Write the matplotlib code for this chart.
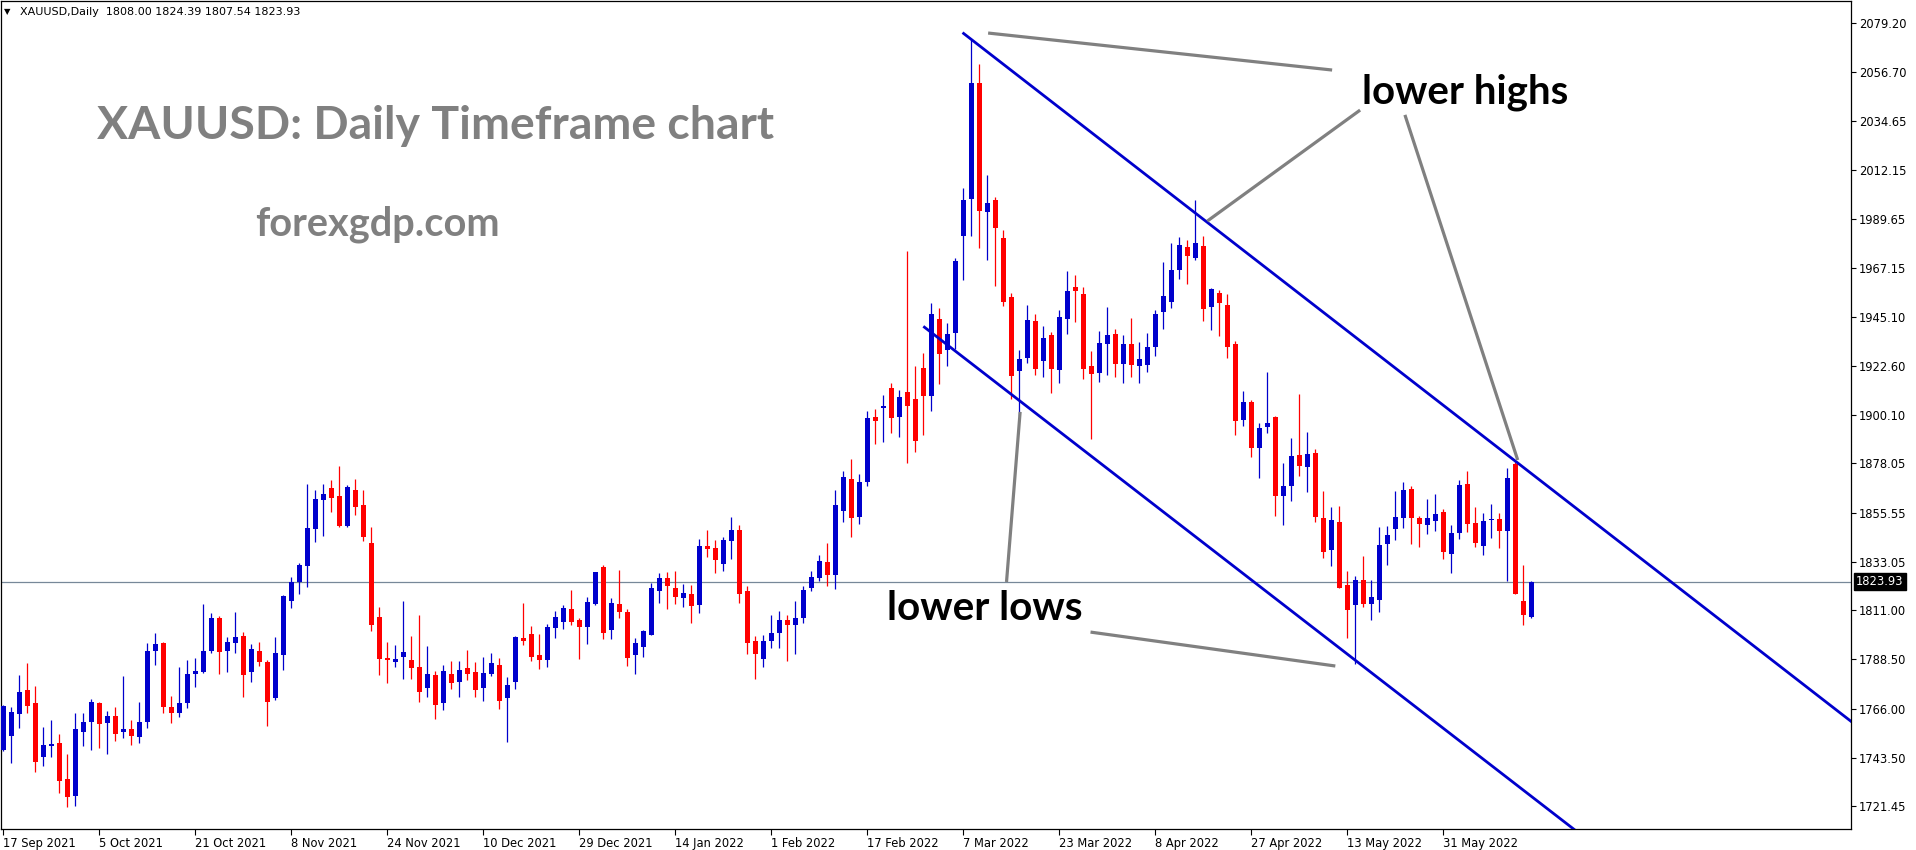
import matplotlib
matplotlib.use("Agg")
import matplotlib.pyplot as plt
from matplotlib.transforms import blended_transform_factory

# ---------------- data ----------------
opens = [1747.0, 1753.7, 1763.7, 1774.5, 1768.6, 1744.1, 1749.1, 1750.3, 1733.9, 1726.3,
         1755.5, 1760.1, 1768.6, 1759.6, 1762.7, 1755.5, 1756.7, 1753.2, 1760.1, 1792.4,
         1796.0, 1766.8, 1764.0, 1768.6, 1781.9, 1782.8, 1792.4, 1807.4, 1792.4, 1796.0,
         1799.2, 1782.8, 1792.4, 1787.3, 1771.0, 1790.7, 1815.4, 1823.9, 1831.2, 1848.1,
         1861.4, 1866.8, 1863.2, 1849.5, 1865.9, 1859.1, 1841.7, 1807.9, 1789.2, 1787.5,
         1789.8, 1788.2, 1785.1, 1775.6, 1781.4, 1768.8, 1781.9, 1778.4, 1784.6, 1782.8,
         1775.6, 1782.0, 1786.0, 1771.0, 1778.4, 1798.3, 1800.1, 1790.5, 1788.4, 1803.0,
         1805.8, 1811.5, 1806.5, 1803.5, 1814.0, 1830.7, 1802.1, 1813.8, 1810.2, 1790.7,
         1794.3, 1799.8, 1819.9, 1825.7, 1821.1, 1816.7, 1818.4, 1813.5, 1840.3, 1839.4,
         1832.2, 1842.8, 1847.6, 1819.8, 1796.9, 1788.9, 1797.1, 1800.7, 1806.5, 1804.4,
         1807.5, 1821.1, 1825.8, 1832.8, 1827.3, 1856.1, 1871.1, 1853.8, 1869.8, 1899.3,
         1903.6, 1912.6, 1899.1, 1910.5, 1907.6, 1921.5, 1908.8, 1944.0, 1930.0, 1937.6,
         1982.0, 1998.7, 2051.7, 1992.8, 1998.3, 1981.2, 1954.0, 1920.3, 1926.1, 1943.0,
         1925.0, 1936.7, 1920.9, 1944.2, 1958.7, 1955.5, 1922.6, 1919.5, 1932.8, 1937.2,
         1923.6, 1932.6, 1922.7, 1923.2, 1931.4, 1947.4, 1952.0, 1966.6, 1977.0, 1972.1,
         1977.4, 1949.7, 1955.9, 1950.5, 1932.6, 1898.1, 1906.1, 1885.3, 1894.8, 1899.3,
         1863.0, 1867.9, 1881.9, 1876.3, 1882.8, 1853.1, 1838.7, 1851.3, 1822.5, 1813.5,
         1824.8, 1814.0, 1815.8, 1841.4, 1848.3, 1853.3, 1866.4, 1853.1, 1850.1, 1851.9,
         1855.9, 1836.8, 1846.4, 1868.7, 1850.8, 1840.5, 1852.2, 1852.7, 1847.3, 1877.8,
         1815.2, 1808.00]
highs = [1767.5, 1766.9, 1781.4, 1786.9, 1776.4, 1757.6, 1760.8, 1754.4, 1745.3, 1764.0,
         1764.0, 1770.4, 1769.1, 1765.0, 1766.8, 1780.9, 1760.8, 1769.1, 1796.0, 1800.6,
         1796.5, 1771.8, 1785.0, 1788.2, 1789.2, 1813.8, 1809.7, 1808.4, 1798.8, 1810.2,
         1801.0, 1795.6, 1796.5, 1788.2, 1798.8, 1817.9, 1826.2, 1832.6, 1868.7, 1865.9,
         1868.7, 1870.5, 1876.9, 1868.2, 1870.9, 1865.9, 1849.0, 1812.5, 1796.5, 1795.1,
         1815.2, 1799.2, 1808.8, 1794.6, 1783.4, 1786.0, 1787.8, 1787.8, 1792.8, 1787.3,
         1789.6, 1791.4, 1789.2, 1780.5, 1799.2, 1814.3, 1803.8, 1800.1, 1804.7, 1810.6,
         1813.4, 1820.2, 1807.4, 1817.0, 1828.5, 1831.7, 1816.6, 1829.4, 1811.5, 1798.3,
         1801.9, 1823.4, 1828.0, 1828.5, 1828.9, 1823.0, 1822.5, 1843.5, 1847.6, 1843.1,
         1844.4, 1853.6, 1849.9, 1822.1, 1799.2, 1799.7, 1808.8, 1810.6, 1808.8, 1815.0,
         1822.0, 1828.9, 1836.3, 1841.9, 1865.8, 1874.8, 1880.3, 1873.0, 1901.8, 1903.1,
         1909.1, 1914.6, 1911.5, 1975.2, 1922.5, 1928.3, 1951.3, 1949.0, 1942.2, 1971.7,
         2003.7, 2072.0, 2060.5, 2010.0, 2000.0, 1984.8, 1955.7, 1930.1, 1950.3, 1946.3,
         1941.0, 1938.1, 1948.2, 1966.0, 1964.2, 1958.7, 1929.4, 1938.6, 1949.5, 1939.5,
         1936.7, 1944.5, 1933.5, 1937.6, 1948.2, 1970.1, 1978.8, 1981.5, 1980.1, 1998.4,
         1982.0, 1958.2, 1957.3, 1955.5, 1934.0, 1911.2, 1907.0, 1896.5, 1919.8, 1899.7,
         1878.3, 1889.7, 1909.8, 1892.4, 1884.5, 1865.5, 1858.2, 1858.6, 1828.9, 1826.6,
         1835.8, 1824.8, 1849.0, 1849.5, 1865.5, 1869.6, 1867.8, 1854.0, 1861.8, 1864.1,
         1857.2, 1849.9, 1870.5, 1874.6, 1858.2, 1855.4, 1859.5, 1855.4, 1876.0, 1878.7,
         1831.6, 1824.39]
lows = [1746.5, 1741.3, 1757.3, 1764.2, 1737.2, 1740.0, 1744.1, 1727.6, 1721.2, 1721.7,
        1749.1, 1747.3, 1748.2, 1745.5, 1751.4, 1752.8, 1749.6, 1750.5, 1757.3, 1786.0,
        1764.0, 1759.5, 1762.2, 1766.3, 1775.9, 1782.3, 1791.4, 1781.9, 1782.8, 1791.4,
        1771.3, 1778.2, 1785.5, 1758.2, 1770.1, 1783.8, 1812.2, 1818.6, 1821.8, 1842.3,
        1845.1, 1856.0, 1849.0, 1849.0, 1854.7, 1842.8, 1801.7, 1781.5, 1777.9, 1785.2,
        1779.7, 1779.7, 1769.2, 1771.5, 1761.4, 1765.5, 1775.2, 1771.5, 1779.3, 1771.5,
        1769.7, 1781.1, 1766.0, 1750.9, 1775.2, 1795.3, 1788.0, 1784.3, 1785.2, 1798.4,
        1802.6, 1804.4, 1788.9, 1795.7, 1813.5, 1798.0, 1798.0, 1807.6, 1785.7, 1782.0,
        1789.8, 1799.8, 1814.3, 1811.5, 1814.0, 1812.6, 1805.3, 1809.9, 1835.5, 1828.2,
        1829.1, 1834.5, 1814.4, 1791.1, 1779.7, 1785.2, 1793.9, 1793.9, 1788.0, 1791.0,
        1805.0, 1819.9, 1824.4, 1821.9, 1820.6, 1851.1, 1844.6, 1850.6, 1867.9, 1887.0,
        1887.8, 1892.0, 1890.0, 1878.3, 1883.1, 1891.0, 1902.0, 1914.3, 1922.5, 1930.3,
        1961.7, 1982.0, 1976.7, 1971.2, 1959.3, 1950.2, 1907.6, 1899.5, 1924.0, 1918.5,
        1917.5, 1910.4, 1915.0, 1937.4, 1942.8, 1916.8, 1889.4, 1915.3, 1918.5, 1917.6,
        1915.0, 1917.6, 1915.0, 1920.0, 1927.3, 1939.6, 1949.2, 1962.5, 1960.2, 1971.2,
        1943.3, 1939.2, 1936.4, 1926.4, 1891.2, 1895.3, 1881.2, 1871.6, 1892.1, 1854.2,
        1850.1, 1861.0, 1872.3, 1865.2, 1851.5, 1835.0, 1831.3, 1821.1, 1798.5, 1786.3,
        1812.6, 1806.7, 1810.3, 1831.8, 1843.2, 1848.7, 1841.4, 1840.0, 1846.0, 1847.3,
        1834.6, 1828.2, 1843.7, 1846.9, 1840.0, 1836.4, 1844.1, 1839.6, 1824.5, 1818.4,
        1804.4, 1807.54]
closes = [1767.0, 1764.5, 1773.6, 1767.4, 1741.8, 1749.4, 1749.9, 1733.1, 1725.8, 1756.7,
          1759.9, 1769.1, 1759.2, 1762.7, 1754.6, 1756.7, 1753.7, 1759.9, 1792.4, 1795.6,
          1766.8, 1764.0, 1768.6, 1781.9, 1783.2, 1792.4, 1807.4, 1791.9, 1796.5, 1798.8,
          1781.4, 1793.3, 1787.3, 1769.2, 1791.4, 1817.5, 1823.9, 1831.7, 1848.6, 1861.8,
          1864.1, 1862.3, 1849.5, 1867.3, 1858.3, 1844.6, 1804.4, 1788.9, 1788.4, 1788.7,
          1791.9, 1784.7, 1773.8, 1781.9, 1767.8, 1783.2, 1777.9, 1783.7, 1782.0, 1774.7,
          1782.3, 1786.9, 1769.7, 1776.8, 1798.8, 1797.1, 1789.8, 1788.4, 1803.3, 1807.9,
          1812.0, 1805.8, 1803.5, 1814.7, 1828.5, 1800.7, 1814.3, 1810.3, 1789.3, 1796.0,
          1801.5, 1821.1, 1825.7, 1822.2, 1817.2, 1818.9, 1813.1, 1840.3, 1839.0, 1834.1,
          1843.1, 1847.6, 1818.6, 1796.2, 1791.1, 1796.9, 1800.7, 1806.5, 1804.4, 1807.5,
          1820.0, 1826.1, 1833.3, 1826.9, 1859.1, 1872.0, 1853.3, 1869.6, 1899.0, 1897.3,
          1904.3, 1898.8, 1908.5, 1904.3, 1888.1, 1908.8, 1946.2, 1928.1, 1937.3, 1970.7,
          1998.2, 2051.7, 1993.2, 1997.2, 1985.8, 1952.0, 1917.8, 1925.6, 1943.5, 1921.1,
          1935.3, 1921.2, 1945.0, 1956.9, 1957.0, 1921.2, 1919.1, 1933.1, 1936.7, 1923.6,
          1932.6, 1923.2, 1925.8, 1931.3, 1946.3, 1954.6, 1966.4, 1977.9, 1973.0, 1978.8,
          1948.8, 1957.8, 1951.5, 1931.4, 1897.3, 1906.1, 1885.3, 1894.3, 1896.5, 1863.0,
          1867.8, 1881.5, 1876.9, 1882.4, 1853.7, 1837.8, 1852.2, 1821.3, 1811.2, 1824.8,
          1814.0, 1817.0, 1840.8, 1845.4, 1853.6, 1865.9, 1853.3, 1850.5, 1853.1, 1854.9,
          1837.7, 1846.3, 1868.2, 1850.5, 1841.9, 1851.8, 1852.7, 1847.3, 1871.4, 1818.6,
          1809.0, 1823.93]

date_labels = ["17 Sep 2021", "5 Oct 2021", "21 Oct 2021", "8 Nov 2021", "24 Nov 2021",
               "10 Dec 2021", "29 Dec 2021", "14 Jan 2022", "1 Feb 2022", "17 Feb 2022",
               "7 Mar 2022", "23 Mar 2022", "8 Apr 2022", "27 Apr 2022", "13 May 2022",
               "31 May 2022"]
bars_per_date_label = 12

price_ticks = [2079.20, 2056.70, 2034.65, 2012.15, 1989.65, 1967.15, 1945.10, 1922.60,
               1900.10, 1878.05, 1855.55, 1833.05, 1811.00, 1788.50, 1766.00, 1743.50,
               1721.45]
last_price = 1823.93
header_text = "XAUUSD,Daily  1808.00 1824.39 1807.54 1823.93"

# channel lines and pointer lines: (bar index, price) end points
channel_upper_x = [119.9, 231.5]
channel_upper_y = [2074.9, 1758.7]
channel_lower_x = [115.0, 205.0]
channel_lower_y = [1940.7, 1686.4]
pointers = [
    ([123.1, 166.1], [2074.7, 2057.8]),
    ([169.6, 150.5], [2039.5, 1988.8]),
    ([175.2, 189.3], [2037.3, 1879.6]),
    ([125.4, 127.1], [1823.9, 1901.6]),
    ([135.9, 166.5], [1801.0, 1785.5]),
]

# ---------------- figure ----------------
W, H = 1916, 850
fig = plt.figure(figsize=(W / 100, H / 100), dpi=100)
fig.patch.set_facecolor("white")

def fx(x):
    return x / W

def fy(y):
    return 1 - y / H

ax_left, ax_right, ax_top, ax_bottom = 1, 1851, 1, 829
ax = fig.add_axes([fx(ax_left), fy(ax_bottom), (ax_right - ax_left) / W, (ax_bottom - ax_top) / H])
ax.set_facecolor("white")
ax.set_xlim(-0.29, 230.96)
ax.set_ylim(1711.03, 2089.34)

BLUE = "#0000CC"
RED = "#FF0000"

n = len(opens)
xs = list(range(n))
cols = [BLUE if c >= o else RED for o, c in zip(opens, closes)]
ax.vlines(xs, lows, highs, colors=cols, linewidth=0.9, zorder=3)
bottoms = [min(o, c) for o, c in zip(opens, closes)]
heights = [max(abs(c - o), 0.5) for o, c in zip(opens, closes)]
ax.bar(xs, heights, bottom=bottoms, width=0.62, color=cols, linewidth=0, zorder=4)

# last price line
ax.axhline(last_price, color="#778899", linewidth=0.9, zorder=2)

# channel
ax.plot(channel_upper_x, channel_upper_y, color=BLUE, linewidth=2.0, zorder=5, solid_capstyle="butt")
ax.plot(channel_lower_x, channel_lower_y, color=BLUE, linewidth=2.0, zorder=5, solid_capstyle="butt")
for px_, py_ in pointers:
    ax.plot(px_, py_, color="#808080", linewidth=2.3, zorder=5, solid_capstyle="butt")

# axes styling
for s in ax.spines.values():
    s.set_color("black")
    s.set_linewidth(0.9)

ax.yaxis.tick_right()
ax.set_yticks(price_ticks)
ax.set_yticklabels([f"{p:.2f}" for p in price_ticks])
ax.tick_params(axis="y", direction="out", length=3.5, width=0.8, pad=2, labelsize=8.3,
               colors="black", right=True, left=False)

xt = list(range(0, bars_per_date_label * len(date_labels), bars_per_date_label))
ax.set_xticks(xt)
ax.set_xticklabels(date_labels)
ax.tick_params(axis="x", direction="out", length=4, width=0.8, pad=2, labelsize=8.3, colors="black")
for lab in ax.get_xticklabels():
    lab.set_horizontalalignment("left")

# current price box
trans = blended_transform_factory(ax.transAxes, ax.transData)
ax.text(1.0 + 5 / 1850, last_price, "1823.93", transform=trans, ha="left", va="center",
        fontsize=8.3, color="white", zorder=10,
        bbox=dict(facecolor="black", edgecolor="black", boxstyle="square,pad=0.18"))

# header
fig.text(fx(4), fy(12), "\u25BC", fontsize=6, va="center", ha="left", color="black")
fig.text(fx(20), fy(12), header_text, fontsize=8, va="center", ha="left", color="black")

# annotation texts
texts = []
t1 = fig.text(fx(436), fy(126), "XAUUSD: Daily Timeframe chart", fontsize=30, fontweight="bold",
              family=["Lato", "DejaVu Sans"], color="#808080", ha="center", va="center")
texts.append((t1, 676))
t2 = fig.text(fx(377), fy(224), "forexgdp.com", fontsize=20, fontweight="bold",
              family=["Lato", "DejaVu Sans"], color="#808080", ha="center", va="center")
texts.append((t2, 245))
t3 = fig.text(fx(1465), fy(92), "lower highs", fontsize=20, fontweight="bold",
              family=["Lato", "DejaVu Sans"], color="black", ha="center", va="center")
texts.append((t3, 206))
t4 = fig.text(fx(985), fy(609), "lower lows", fontsize=20, fontweight="bold",
              family=["Lato", "DejaVu Sans"], color="black", ha="center", va="center")
texts.append((t4, 195))

fig.canvas.draw()
r = fig.canvas.get_renderer()
for t, target in texts:
    w = t.get_window_extent(renderer=r).width
    t.set_fontsize(t.get_fontsize() * target / w)

fig.savefig("out.png", dpi=100, facecolor="white")
